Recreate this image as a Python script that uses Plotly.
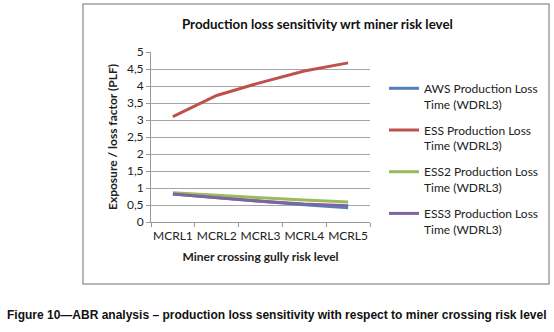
import plotly.graph_objects as go

categories = ["MCRL1", "MCRL2", "MCRL3", "MCRL4", "MCRL5"]
aws = [0.82, 0.71, 0.61, 0.51, 0.42]
ess = [3.10, 3.72, 4.10, 4.44, 4.68]
ess2 = [0.86, 0.78, 0.71, 0.65, 0.59]
ess3 = [0.82, 0.71, 0.61, 0.53, 0.48]
series_names = ["AWS Production Loss<br>Time (WDRL3)", "ESS Production Loss<br>Time (WDRL3)",
                "ESS2 Production Loss<br>Time (WDRL3)", "ESS3 Production Loss<br>Time (WDRL3)"]
series_colors = ["#4F81BD", "#C0504D", "#9BBB59", "#8064A2"]
y_ticks = [0, 0.5, 1, 1.5, 2, 2.5, 3, 3.5, 4, 4.5, 5]
y_ticktext = ["0", "0,5", "1", "1,5", "2", "2,5", "3", "3,5", "4", "4,5", "5"]

FONT = "Lato, Open Sans, sans-serif"

fig = go.Figure()
for i, (vals, name, col) in enumerate(zip([aws, ess, ess2, ess3], series_names, series_colors)):
    fig.add_trace(go.Scatter(x=categories, y=vals, mode="lines", name=name,
                             line=dict(color=col, width=3), legendgroup=str(i)))

W, H = 554, 332
L, R, T, B = 151, 370, 52, 222
pw, ph = R - L, B - T

def px(x):
    return (x - L) / pw

def py(y):
    return (B - y) / ph

fig.update_layout(
    width=W, height=H,
    margin=dict(l=L, r=W - R, t=T, b=H - B, pad=0, autoexpand=False),
    paper_bgcolor="white", plot_bgcolor="white",
    font=dict(family=FONT, size=12, color="#222222"),
    showlegend=True,
    legend=dict(x=px(384), y=py(74), xanchor="left", yanchor="top",
                font=dict(family=FONT, size=12, color="#222222"),
                valign="top", traceorder="grouped", tracegroupgap=7.5,
                bgcolor="rgba(0,0,0,0)", itemwidth=30),
    xaxis=dict(type="category", range=[-0.5, 4.5], showgrid=False, showline=True,
               linecolor="#999999", linewidth=1, ticks="outside", tickson="boundaries",
               ticklen=4, tickcolor="#999999", tickfont=dict(size=12, color="#222222"),
               tickangle=0, automargin=False, ticklabelstandoff=3,
               title=dict(text="<b>Miner crossing gully risk level</b>", font=dict(size=12), standoff=10)),
    yaxis=dict(range=[0, 5], tickvals=y_ticks, ticktext=y_ticktext, showgrid=True,
               gridcolor="#A6A6A6", gridwidth=1, showline=True, linecolor="#999999",
               ticks="outside", ticklen=4, tickcolor="#999999", zeroline=False,
               tickfont=dict(size=12, color="#222222"), automargin=False,
               title=dict(text="<b>Exposure / loss factor (PLF)</b>", font=dict(size=12), standoff=6)),
)

# outer chart border
fig.add_shape(type="rect", xref="paper", yref="paper",
              x0=px(83), x1=px(549), y0=py(284), y1=py(4),
              line=dict(color="#A0A0A0", width=1.5), layer="below")

fig.add_annotation(text="<b>Production loss sensitivity wrt miner risk level</b>",
                   xref="paper", yref="paper", x=px(317), y=py(24),
                   showarrow=False, font=dict(family=FONT, size=13.3, color="#111111"),
                   xanchor="center", yanchor="middle")

fig.add_annotation(text="<b>Figure 10\u2014ABR analysis \u2013 production loss sensitivity with respect to miner crossing risk level</b>",
                   xref="paper", yref="paper", x=px(277), y=py(315),
                   showarrow=False,
                   font=dict(family="Liberation Sans Narrow, Arial Narrow, sans-serif", size=12.0, color="#111111"),
                   xanchor="center", yanchor="middle")

fig.write_html("out.html", config={"displayModeBar": False},
               post_script="document.body.style.margin='0px';document.body.style.overflow='hidden';")
